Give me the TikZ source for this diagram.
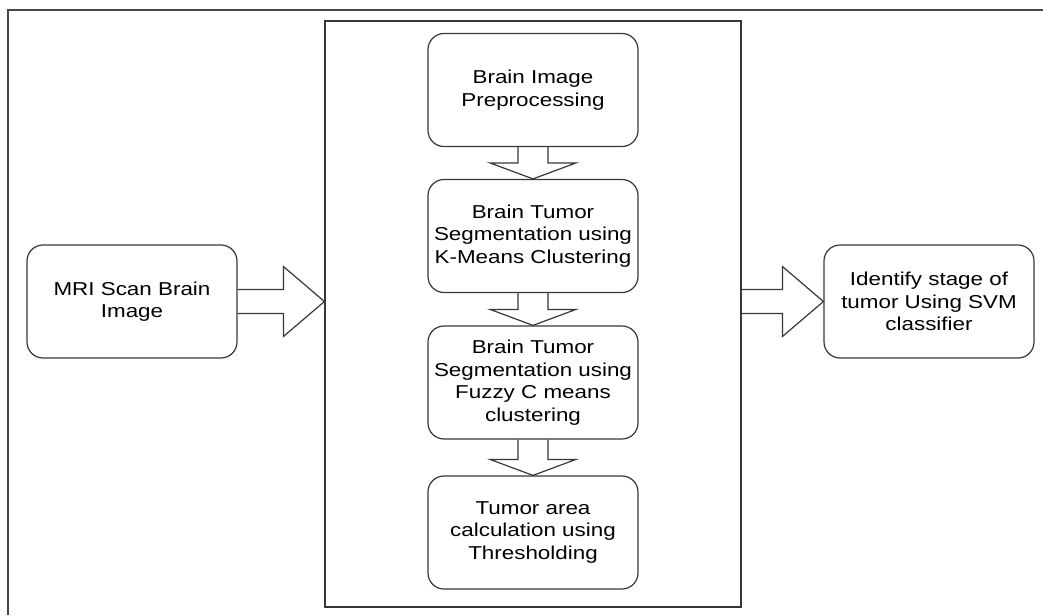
\documentclass[tikz,border=0pt]{standalone}
\usepackage{fontspec}
\setmainfont{Liberation Sans}[FakeStretch=1.2]
\usetikzlibrary{calc}

\definecolor{edgegray}{RGB}{55, 55, 55}
\definecolor{framegray}{RGB}{70, 70, 70}

% hollow block arrows between two points
\newcommand{\hblock}[2]{%
  \draw[blockline] ($(#1)+(0,-12)$) -- ($(#2)+(-41,-12)$) -- ($(#2)+(-41,-35)$) -- (#2)
    -- ($(#2)+(-41,35)$) -- ($(#2)+(-41,12)$) -- ($(#1)+(0,12)$);}
\newcommand{\vblock}[2]{%
  \draw[blockline] ($(#1)+(-15,0)$) -- ($(#2)+(-15,-16)$) -- ($(#2)+(-43,-16)$) -- (#2)
    -- ($(#2)+(43,-16)$) -- ($(#2)+(15,-16)$) -- ($(#1)+(15,0)$);}

\begin{document}
\begin{tikzpicture}[x=0.75pt, y=-0.75pt,
  stage/.style={draw=edgegray, line width=0.9pt, rounded corners=12pt, minimum width=157.5pt,
    minimum height=84.75pt, align=center, inner sep=2pt, font=\fontsize{14}{17}\selectfont},
  blockline/.style={draw=edgegray, line width=0.9pt, line join=miter}]
  \useasboundingbox (0,0) rectangle (1043,615);

  % Outer frame (top and left only)
  \draw[line width=1.4pt, framegray] (8,615) -- (8,10) -- (1043,10);

  % Processing frame
  \node[draw=edgegray, line width=0.9pt, minimum width=312pt, minimum height=439.5pt, inner sep=0pt] (frame) at (533, 314) {};

  % Input and output
  \node[stage] (mri) at (132, 301.5) {MRI Scan Brain\\Image};
  \node[stage] (ident) at (929, 301.5) {Identify stage of\\tumor Using SVM\\classifier};

  % Stages
  \node[stage] (prep) at (533, 90) {Brain Image\\Preprocessing};
  \node[stage] (kmeans) at (533, 236) {Brain Tumor\\Segmentation using\\K-Means Clustering};
  \node[stage] (fcm) at (533, 382.5) {Brain Tumor\\Segmentation using\\Fuzzy C means\\clustering};
  \node[stage] (area) at (533, 532.5) {Tumor area\\calculation using\\Thresholding};

  \coordinate (framein) at (frame.west |- mri.east);
  \coordinate (frameout) at (frame.east |- ident.west);

  % Arrows
  \hblock{mri.east}{framein}
  \hblock{frameout}{ident.west}
  \vblock{prep.south}{kmeans.north}
  \vblock{kmeans.south}{fcm.north}
  \vblock{fcm.south}{area.north}
\end{tikzpicture}
\end{document}
